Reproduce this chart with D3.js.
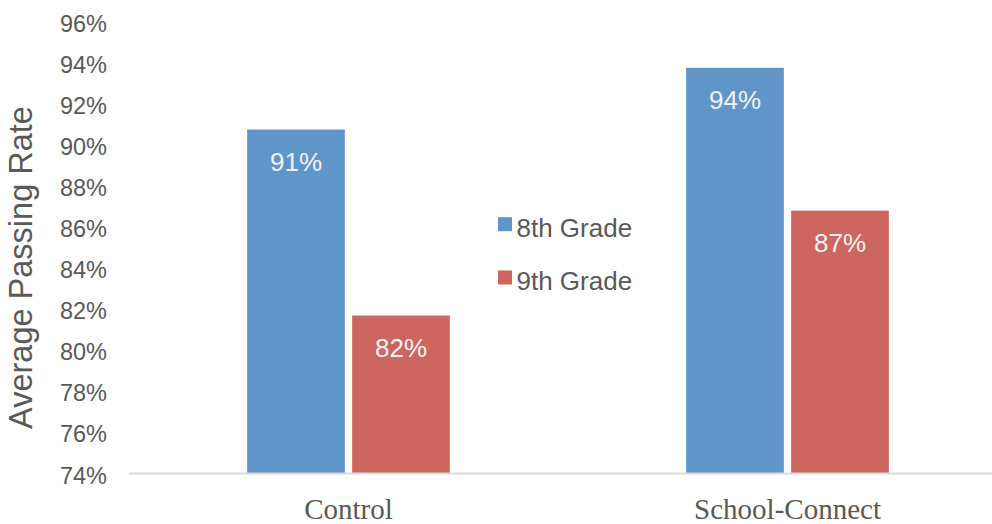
<!DOCTYPE html>
<html>
<head>
<meta charset="utf-8">
<script src="https://cdn.jsdelivr.net/npm/d3@7"></script>
<style>
  html, body { margin: 0; padding: 0; background: #ffffff; }
  svg { display: block; }
</style>
</head>
<body>
<svg id="chart" width="992" height="524"></svg>
<script>
const categories = ["Control", "School-Connect"];
const seriesNames = ["8th Grade", "9th Grade"];
const grade8 = [90.75, 93.75];
const grade9 = [81.7, 86.8];
const labels8 = ["91%", "94%"];
const labels9 = ["82%", "87%"];
const yTicks = [74, 76, 78, 80, 82, 84, 86, 88, 90, 92, 94, 96];
const colors = ["#5f95c8", "#cd665f"];

const svg = d3.select("#chart");
const x = d3.scaleBand().domain(categories).range([129, 1007]);
const y = d3.scaleLinear().domain([74, 96]).range([473.5, 21.5]);
const groupW = 203;
const sub = d3.scaleBand().domain(seriesNames).range([0, groupW]).paddingInner(0.0667);

const series = [grade8, grade9];
const seriesLabels = [labels8, labels9];

// y tick labels
const yAxis = d3.axisLeft(y).tickValues(yTicks).tickSize(0).tickPadding(0)
  .tickFormat(d => d + "%");
const yg = svg.append("g").attr("transform", "translate(107,0)").call(yAxis);
yg.select(".domain").remove();
yg.selectAll("text")
  .attr("dy", 0)
  .attr("y", 9.5)
  .attr("font-family", "Liberation Sans, Arial, sans-serif")
  .attr("font-size", 23.5)
  .attr("fill", "#595959");

// bars
seriesNames.forEach((s, si) => {
  const g = svg.append("g");
  g.selectAll("rect").data(categories).join("rect")
    .attr("x", (c) => x(c) + (x.bandwidth() - groupW) / 2 + sub(s))
    .attr("y", (c, i) => y(series[si][i]))
    .attr("width", sub.bandwidth())
    .attr("height", (c, i) => y(74) - y(series[si][i]))
    .attr("fill", colors[si])
    .attr("stroke", "#ffffff")
    .attr("stroke-opacity", 0.5)
    .attr("stroke-width", 0.6);
  g.selectAll("text").data(categories).join("text")
    .attr("x", (c) => x(c) + (x.bandwidth() - groupW) / 2 + sub(s) + sub.bandwidth() / 2)
    .attr("y", (c, i) => y(series[si][i]) + 41.4)
    .attr("text-anchor", "middle")
    .attr("font-family", "Liberation Sans, Arial, sans-serif")
    .attr("font-size", 26)
    .attr("fill", "#f2f2f2")
    .text((c, i) => seriesLabels[si][i]);
});

// x axis line
svg.append("line")
  .attr("x1", 129).attr("x2", 992)
  .attr("y1", y(74)).attr("y2", y(74))
  .attr("stroke", "#d9d9d9").attr("stroke-width", 2);

// x labels
const xAxis = d3.axisBottom(x).tickSize(0).tickPadding(0);
const xg = svg.append("g").attr("transform", "translate(0,519)").call(xAxis);
xg.select(".domain").remove();
xg.selectAll("text")
  .attr("dy", 0)
  .attr("y", 0)
  .attr("font-family", "Liberation Serif, serif")
  .attr("font-size", 29)
  .attr("fill", "#595959");

// y title
svg.append("text")
  .attr("transform", "translate(32,267.5) rotate(-90)")
  .attr("text-anchor", "middle")
  .attr("font-family", "Liberation Sans, Arial, sans-serif")
  .attr("font-size", 32.5)
  .attr("fill", "#595959")
  .text("Average Passing Rate");

// legend
const legend = svg.append("g");
const legBase = [236.7, 290];
seriesNames.forEach((s, i) => {
  legend.append("rect")
    .attr("x", 498).attr("y", legBase[i] - 19.5)
    .attr("width", 14).attr("height", 14)
    .attr("fill", colors[i]);
  legend.append("text")
    .attr("x", 516.5).attr("y", legBase[i])
    .attr("font-family", "Liberation Sans, Arial, sans-serif")
    .attr("font-size", 26)
    .attr("fill", "#595959")
    .text(s);
});
</script>
</body>
</html>
